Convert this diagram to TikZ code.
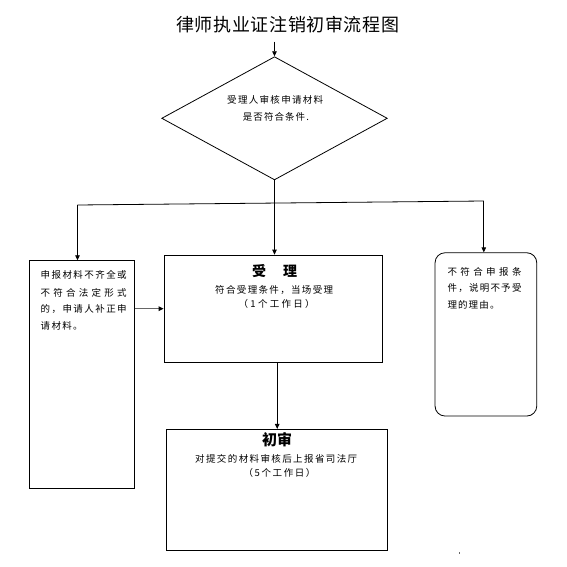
\documentclass[tikz,border=0pt]{standalone}
\usepackage{fontspec}
\setmainfont{Noto Sans CJK SC}
\usetikzlibrary{arrows.meta,shapes.geometric}
\makeatletter
\newcommand\spr[2]{\makebox[#1][s]{\sprA#2\relax}}
\def\sprA#1{#1\sprB}
\def\sprB#1{\ifx\relax#1\else\hfil#1\expandafter\sprB\fi}
\makeatother
\tikzset{
  box/.style={draw=black, line width=0.8pt, inner sep=0pt},
  arr/.style={line width=0.8pt, -{Triangle[length=5pt,width=4.5pt]}},
  conn/.style={line width=0.8pt},
  txt/.style={inner sep=0pt, font=\fontsize{9.5}{11}\selectfont},
}
\begin{document}
\begin{tikzpicture}[x=1pt,y=-1pt]
\useasboundingbox (0,0) rectangle (567,567);
% title
\node[inner sep=0pt, anchor=west, font=\fontsize{18}{20}\selectfont] (title) at (176,25) {\spr{223pt}{律师执业证注销初审流程图}};
% shapes
\node[diamond, draw=black, line width=0.8pt, inner sep=0pt, minimum width=225.6pt, minimum height=123.2pt] (dia) at (274.5,118.3) {};
\node[box, minimum width=105pt, minimum height=227.6pt] (left) at (81.8,374.5) {};
\node[box, minimum width=218.3pt, minimum height=107.3pt] (ctr) at (273.2,308.7) {};
\node[box, minimum width=221pt, minimum height=120.7pt] (bot) at (277.2,489.7) {};
\node[box, rounded corners=10pt, minimum width=101.7pt, minimum height=163.3pt] (rbox) at (485.9,334.4) {};
% diamond text
\node[txt, anchor=west] (d1) at (227,100) {\spr{96pt}{受理人审核申请材料}};
\node[txt, anchor=west] (d2) at (242.7,117.3) {\spr{66pt}{是否符合条件.}};
% left box text
\node[txt, anchor=west] (l1) at (40.5,275) {\spr{86pt}{申报材料不齐全或}};
\node[txt, anchor=west] (l2) at (40.5,292.5) {\spr{86pt}{不符合法定形式}};
\node[txt, anchor=west] (l3) at (40.5,309.3) {\spr{86pt}{的，申请人补正申}};
\node[txt, anchor=west] (l4) at (40.5,326) {\spr{42pt}{请材料。}};
% right box text
\node[txt, anchor=west] (r1) at (447.3,271.7) {\spr{74pt}{不符合申报条}};
\node[txt, anchor=west] (r2) at (447.3,288.3) {\spr{74pt}{件，说明不予受}};
\node[txt, anchor=west] (r3) at (447.3,305) {\spr{52pt}{理的理由。}};
% center box text
\node[inner sep=0pt, anchor=west, font=\fontsize{14}{16}\selectfont\bfseries] (c0) at (252,270.7) {\spr{45pt}{受理}};
\node[txt, anchor=west] (c1) at (215,290) {\spr{118pt}{符合受理条件，当场受理}};
\node[txt] (c2) at (276.7,304.3) {\spr{76pt}{（1个工作日）}};
% bottom box text
\node[inner sep=0pt, font=\fontsize{15}{17}\selectfont\bfseries] (b0) at (277.2,440) {初审};
\node[txt, anchor=west] (b1) at (195,459) {\spr{162pt}{对提交的材料审核后上报省司法厅}};
\node[txt] (b2) at (279.5,473.3) {\spr{72pt}{（5个工作日）}};
% connectors
\coordinate (s) at (274.5,41.7);
\coordinate (hl) at (77.5,205);
\coordinate (hr) at (483.8,201);
\draw[arr] (s) -- (dia.north);
\draw[conn] (hl) -- (hr);
\draw[arr] (dia.south) -- (dia.south |- ctr.north);
\draw[arr] (hl) -- (hl |- left.north);
\draw[arr] (hr) -- (hr |- rbox.north);
\draw[draw=black!60, line width=1.4pt, -{Triangle[length=5pt,width=4.5pt,color=black]}] (left.east |- ctr.west) -- (ctr.west);
\draw[arr] (ctr.south -| bot.north) -- (bot.north);
% small mark
\fill[black!60] (458.8,551.5) rectangle (459.8,553.5);
\end{tikzpicture}
\end{document}
